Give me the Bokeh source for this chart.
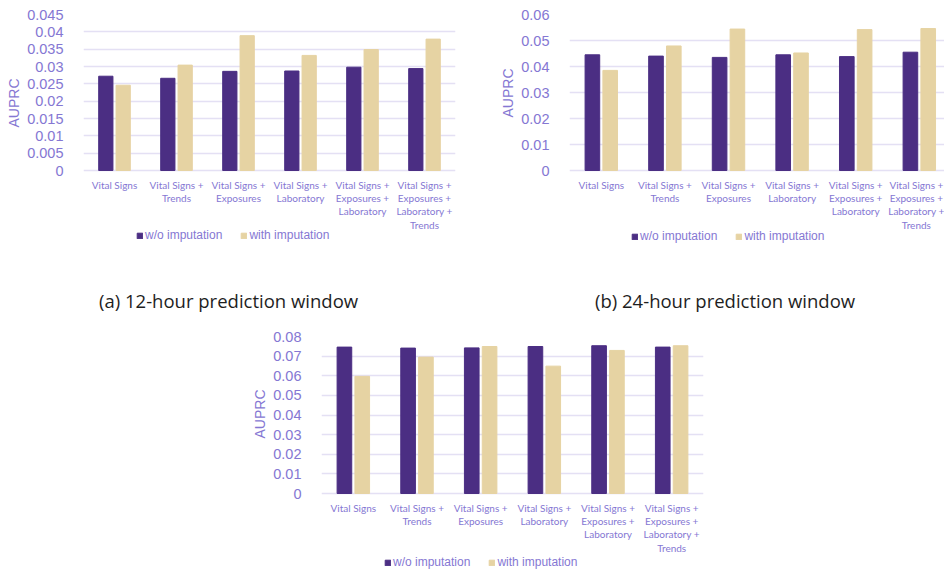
import numpy as np
from bokeh.plotting import figure
from bokeh.layouts import column, row
from bokeh.models import (Range1d, FixedTicker, Legend, LegendItem, Div, Spacer,
                          Title)
from bokeh.embed import file_html
from bokeh.resources import INLINE

# Feature sets evaluated
categories = [
    "Vital Signs",
    "Vital Signs +\nTrends",
    "Vital Signs +\nExposures",
    "Vital Signs +\nLaboratory",
    "Vital Signs +\nExposures +\nLaboratory",
    "Vital Signs +\nExposures +\nLaboratory +\nTrends",
]

# AUPRC, 12-hour prediction window
auprc_12h_without = [0.0272, 0.0266, 0.0286, 0.0287, 0.0298, 0.0294]
auprc_12h_with = [0.0246, 0.0304, 0.0389, 0.0332, 0.0349, 0.0379]

# AUPRC, 24-hour prediction window
auprc_24h_without = [0.0445, 0.0440, 0.0435, 0.0445, 0.0438, 0.0455]
auprc_24h_with = [0.0385, 0.0479, 0.0544, 0.0452, 0.0542, 0.0546]

# AUPRC, 48-hour prediction window
auprc_48h_without = [0.0746, 0.0741, 0.0742, 0.0749, 0.0753, 0.0746]
auprc_48h_with = [0.0597, 0.0695, 0.0749, 0.0649, 0.0729, 0.0753]

# y tick values and their labels
ticks_12h = [0, 0.005, 0.01, 0.015, 0.02, 0.025, 0.03, 0.035, 0.04, 0.045]
tick_labels_12h = ["0", "0.005", "0.01", "0.015", "0.02", "0.025", "0.03", "0.035", "0.04", "0.045"]
ticks_24h = [0, 0.01, 0.02, 0.03, 0.04, 0.05, 0.06]
tick_labels_24h = ["0", "0.01", "0.02", "0.03", "0.04", "0.05", "0.06"]
ticks_48h = [0, 0.01, 0.02, 0.03, 0.04, 0.05, 0.06, 0.07, 0.08]
tick_labels_48h = ["0", "0.01", "0.02", "0.03", "0.04", "0.05", "0.06", "0.07", "0.08"]

series_names = ["w/o imputation", "with imputation"]
y_title = "AUPRC"

DARK = "#4b2e83"
GOLD = "#e6d3a3"
LAVENDER = "#8577d3"
GRID = "#e4e0f4"


def panel(without, with_imp, ticks, tick_labels, x_end, frame_w, left, right,
          top, plot_h, under_h, title_offset, legend_xy):
    """Bar chart whose frame runs down past zero so the category axis and
    the legend sit inside it, right under the bars."""
    y_top = ticks[-1]
    per_px = y_top / plot_h
    p = figure(
        output_backend="svg", toolbar_location=None,
        frame_width=frame_w, frame_height=plot_h + under_h,
        min_border_left=left, min_border_right=right,
        min_border_top=top, min_border_bottom=0,
        x_range=Range1d(0, x_end),
        y_range=Range1d(-under_h * per_px, y_top),
        outline_line_color=None,
    )
    x = np.arange(len(categories)) + 0.5
    r1 = p.vbar(x=x - 0.14, top=without, bottom=0, width=0.23,
                fill_color=DARK, line_color=DARK)
    r2 = p.vbar(x=x + 0.14, top=with_imp, bottom=0, width=0.23,
                fill_color=GOLD, line_color=GOLD)

    p.xgrid.visible = False
    p.ygrid.grid_line_color = GRID
    p.ygrid.grid_line_width = 1.5

    xa = p.xaxis[0]
    xa.fixed_location = 0
    xa.ticker = FixedTicker(ticks=list(x))
    xa.major_label_overrides = {float(v): c for v, c in zip(x, categories)}
    xa.axis_line_color = None
    xa.major_tick_line_color = None
    xa.minor_tick_line_color = None
    xa.major_label_standoff = 2
    xa.major_label_text_font = "Lato"
    xa.major_label_text_font_size = "10px"
    xa.major_label_text_color = LAVENDER
    xa.major_label_text_line_height = 1.12

    ya = p.yaxis[0]
    ya.ticker = FixedTicker(ticks=ticks)
    ya.bounds = (0, y_top)
    ya.major_label_overrides = dict(zip(ticks, tick_labels))
    ya.axis_line_color = None
    ya.major_tick_line_color = None
    ya.minor_tick_line_color = None
    ya.major_label_standoff = 14
    ya.major_label_text_font = "Liberation Sans"
    ya.major_label_text_font_size = "14.5px"
    ya.major_label_text_color = LAVENDER

    # vertical axis title, raised from the frame's bottom edge so that it
    # sits beside the value scale
    p.add_layout(Title(text=y_title, align="left", offset=title_offset,
                       text_font="Liberation Sans", text_font_size="14px",
                       text_font_style="normal", text_color=LAVENDER,
                       standoff=6), "left")

    legend = Legend(
        items=[LegendItem(label=series_names[0], renderers=[r1]),
               LegendItem(label=series_names[1], renderers=[r2])],
        location=legend_xy, orientation="horizontal",
        padding=0, margin=0, spacing=18, glyph_width=7, glyph_height=7,
        label_standoff=2, label_height=14,
        label_text_font="Liberation Sans", label_text_font_size="12px",
        label_text_color=LAVENDER,
        border_line_color=None, background_fill_alpha=0,
    )
    p.add_layout(legend)
    return p


p12 = panel(auprc_12h_without, auprc_12h_with, ticks_12h, tick_labels_12h,
            6, 372, 83, 15, 14, 156, 80, 123, (53, 8))
p24 = panel(auprc_24h_without, auprc_24h_with, ticks_24h, tick_labels_24h,
            5.896, 375, 99, 0, 14, 156, 80, 133, (62, 7))
p48 = panel(auprc_48h_without, auprc_48h_with, ticks_48h, tick_labels_48h,
            6, 382, 101, 20, 16, 157, 81, 136, (63, 5))

CAPTION = ('<div style="position:absolute; left:{left}px; top:38px; '
           'font-family:\'Open Sans\'; font-size:18.5px; color:#1e1e1e; '
           'white-space:nowrap;">{text}</div>')
cap12 = Div(text=CAPTION.format(left=99, text="(a) 12-hour prediction window"),
            width=470, height=70, margin=0)
cap24 = Div(text=CAPTION.format(left=125, text="(b) 24-hour prediction window"),
            width=474, height=70, margin=0)

layout = column(
    row(p12, p24),
    row(cap12, cap24),
    row(Spacer(width=220, height=254, margin=0), p48),
)

open("out.html", "w").write(file_html(layout, INLINE))
